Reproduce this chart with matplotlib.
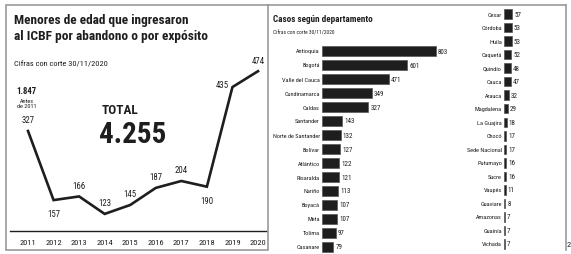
import matplotlib
matplotlib.use("Agg")
import matplotlib.pyplot as plt
from matplotlib import font_manager
from matplotlib.lines import Line2D

years = [2011, 2012, 2013, 2014, 2015, 2016, 2017, 2018, 2019, 2020]
cases = [327, 157, 166, 123, 145, 187, 204, 190, 435, 474]
before_2011 = "1.847"
total = "4.255"

depts_left = ["Antioquia", "Bogotá", "Valle del Cauca", "Cundinamarca", "Caldas",
              "Santander", "Norte de Santander", "Bolívar", "Atlántico", "Risaralda",
              "Nariño", "Boyacá", "Meta", "Tolima", "Casanare"]
vals_left = [803, 601, 471, 349, 327, 143, 132, 127, 122, 121, 113, 107, 107, 97, 79]

depts_right = ["Cesar", "Córdoba", "Huila", "Caquetá", "Quindío", "Cauca", "Arauca",
               "Magdalena", "La Guajira", "Chocó", "Sede Nacional", "Putumayo", "Sucre",
               "Vaupés", "Guaviare", "Amazonas", "Guainía", "Vichada"]
vals_right = [57, 53, 53, 52, 48, 47, 32, 29, 18, 17, 17, 16, 16, 11, 8, 7, 7, 7]

# narrowest installed family wins
names = {f.name for f in font_manager.fontManager.ttflist}
FONT = "DejaVu Sans"
for cand in ["Roboto Condensed", "Liberation Sans Narrow", "Open Sans Condensed", "Roboto"]:
    if cand in names:
        FONT = cand
        break
plt.rcParams["font.family"] = [FONT, "DejaVu Sans"]

W, H = 571, 255
fig = plt.figure(figsize=(W / 100, H / 100), dpi=100)
fig.patch.set_facecolor("white")
INK = "#1e1e1e"


def fx(px):
    return px / W


def fy(py):
    return 1 - py / H


def px_axes(x0, y0, x1, y1):
    return fig.add_axes([fx(x0), fy(y1), fx(x1 - x0), (y1 - y0) / H])


# panel borders
fig.add_artist(plt.Rectangle((fx(6), fy(251)), fx(262), (245) / H, fill=False,
                             edgecolor="#9a9a9a", lw=1.2))
fig.add_artist(Line2D([fx(268), fx(566)], [fy(6), fy(6)], color="#9a9a9a", lw=1.2))
fig.add_artist(Line2D([fx(566), fx(566)], [fy(6), fy(251)], color="#9a9a9a", lw=1.2))

# ---- left panel: line chart
fig.text(fx(14), fy(14), "Menores de edad que ingresaron\nal ICBF por abandono o por expósito",
         fontsize=9.6, fontweight="bold", color=INK, va="top", ha="left", linespacing=1.3)
fig.text(fx(14), fy(64), "Cifras con corte 30/11/2020", fontsize=6, color=INK,
         va="center", ha="left")

ax = px_axes(28, 60, 258, 232)
ax.plot(years, cases, color=INK, lw=1.9, solid_joinstyle="miter", clip_on=False)
ax.set_xlim(2011, 2020)
ax.set_ylim(81, 504)
ax.axis("off")

offsets = [(0, 8), (0, -10), (0, 8), (0, 8), (0, 8), (0, 8), (0, 8), (0, -10), (-7, 2), (0, 8)]
for x, y, (dx, dy) in zip(years, cases, offsets):
    ax.annotate(str(y), (x, y), xytext=(dx, dy), textcoords="offset points",
                ha="center", va="center", fontsize=6.3, color=INK)
ax.annotate(before_2011, (years[0], cases[0]), xytext=(-1, 29), textcoords="offset points",
            ha="center", va="center", fontsize=6.3, color=INK, fontweight="bold")
ax.annotate("Antes\nde 2011", (years[0], cases[0]), xytext=(-1, 20), textcoords="offset points",
            ha="center", va="center", fontsize=4.5, color=INK, linespacing=0.9)
for x in years:
    ax.annotate(str(x), (x, 81), xytext=(0, -8), textcoords="offset points",
                ha="center", va="center", fontsize=6, color=INK, annotation_clip=False)
fig.add_artist(Line2D([fx(10), fx(266)], [fy(232), fy(232)], color=INK, lw=1.0))

fig.text(fx(102), fy(110), "TOTAL", fontsize=9.5, fontweight="bold", color=INK,
         va="center", ha="left")
fig.text(fx(99), fy(135), total, fontsize=21, fontweight="bold", color=INK,
         va="center", ha="left")

# ---- right panel: bars
fig.text(fx(273), fy(20), "Casos según departamento", fontsize=6.6, fontweight="bold",
         color=INK, va="center", ha="left")
fig.text(fx(273), fy(33), "Cifras con corte 30/11/2020", fontsize=4, color=INK,
         va="center", ha="left")

SCALE = 0.142  # px per case


def bar_column(x0, ytop, ybot, depts, vals, height, width_px=130):
    n = len(depts)
    step = (ybot - ytop) / (n - 1)
    a = px_axes(x0, ytop - step / 2, x0 + width_px, ybot + step / 2)
    pos = list(range(n))
    a.barh(pos, vals, height=height, color=INK, edgecolor="#555555", lw=0.5)
    a.set_ylim(n - 0.5, -0.5)
    a.set_xlim(0, width_px / SCALE)
    a.axis("off")
    for p, d, v in zip(pos, depts, vals):
        a.annotate(d, (0, p), xytext=(-1.5, 0), textcoords="offset points", ha="right",
                   va="center", fontsize=4.5, color=INK, annotation_clip=False)
        a.annotate(str(v), (v, p), xytext=(1.5, 0), textcoords="offset points", ha="left",
                   va="center", fontsize=5, color=INK, annotation_clip=False)


bar_column(322, 52, 248, depts_left, vals_left, 0.72)
bar_column(504, 15, 245, depts_right, vals_right, 0.7, width_px=60)

fig.text(fx(567), fy(245), "2", fontsize=6, color=INK, va="center", ha="left")

fig.savefig("out.png", dpi=100, facecolor="white")
